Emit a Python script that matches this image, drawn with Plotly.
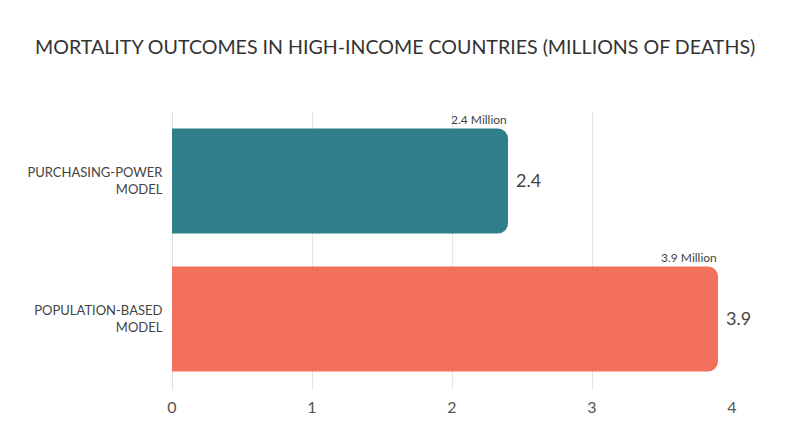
import plotly.graph_objects as go

categories = ["PURCHASING-POWER<br>MODEL", "POPULATION-BASED<br>MODEL"]
values = [2.4, 3.9]
colors = ["#2e7f8a", "#f3705c"]
value_labels = ["2.4", "3.9"]
top_labels = ["2.4 Million", "3.9 Million"]
x_ticks = [0, 1, 2, 3, 4]

fig = go.Figure()
fig.add_trace(go.Bar(
    y=categories, x=values, orientation="h",
    marker=dict(color=colors, cornerradius=10, line=dict(width=0)),
    cliponaxis=False, hoverinfo="skip",
))

for c, v, t, vl in zip(categories, values, top_labels, value_labels):
    fig.add_annotation(
        x=v, y=c, xref="x", yref="y", text=t, showarrow=False,
        xanchor="right", yanchor="bottom", yshift=52, xshift=1,
        font=dict(size=12, color="#444444", family="Lato"),
    )
    fig.add_annotation(
        x=v, y=c, xref="x", yref="y", text=vl, showarrow=False,
        xanchor="left", yanchor="middle", xshift=6, yshift=1,
        font=dict(size=18, color="#444444", family="Lato"),
    )

fig.update_layout(
    width=800, height=447,
    paper_bgcolor="white", plot_bgcolor="white",
    margin=dict(l=164, r=76, t=104, b=65),
    title=dict(text="MORTALITY OUTCOMES IN HIGH-INCOME COUNTRIES (MILLIONS OF DEATHS)",
               x=0.484, xanchor="center", y=0.913, yanchor="middle",
               font=dict(size=19.6, color="#333333", family="Lato")),
    bargap=0.24,
    showlegend=False,
    font=dict(family="Lato", color="#333333"),
)
fig.update_xaxes(
    range=[0, 4], tickvals=x_ticks, showgrid=True, gridcolor="#e5e5e5", gridwidth=1,
    zeroline=True, zerolinecolor="#e0e0e0", zerolinewidth=1,
    ticks="outside", ticklen=3, tickcolor="rgba(0,0,0,0)",
    tickfont=dict(size=16, color="#555555"), showline=False, fixedrange=True,
)
fig.update_yaxes(
    categoryorder="array", categoryarray=categories, autorange="reversed",
    showgrid=False, tickfont=dict(size=13, color="#444444"),
    ticks="outside", ticklen=6, tickcolor="rgba(0,0,0,0)", showline=False,
)

fig.write_html("out.html")
